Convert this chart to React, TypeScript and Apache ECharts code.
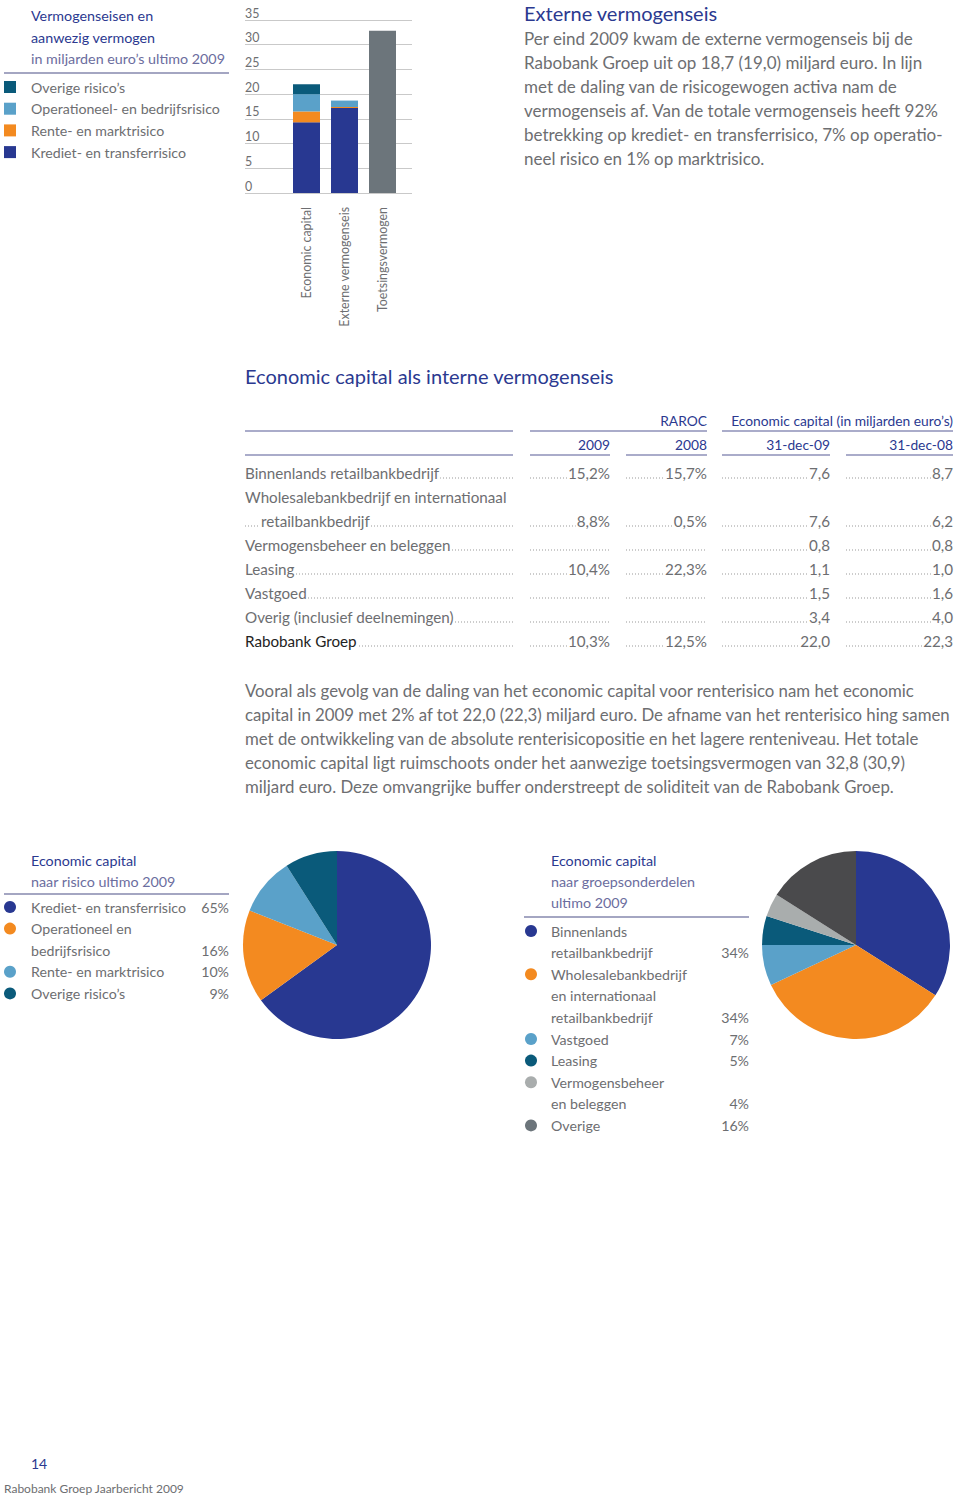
import React, { useEffect, useRef } from 'react';
import * as echarts from 'echarts';

const FONT = 'Lato, "Noto Sans", sans-serif';
const NAVY = '#2b3990';
const SUB = '#6b6d9e';
const GREY = '#6d6e71';
const RULE = '#8e91b8';
const C_KREDIET = '#283891';
const C_ORANGE = '#f38a20';
const C_LBLUE = '#5aa1c9';
const C_TEAL = '#0a5a7a';
const C_TOETS = '#6c757b';
const C_DGREY = '#4a4a4c';
const C_LGREY = '#a9adad';

// ---- Bar chart data (miljarden euro's) ----
const barCategories = ['Economic capital', 'Externe vermogenseis', 'Toetsingsvermogen'];
const kredietRisico = [14.3, 17.2, null];
const renteRisico = [2.2, 0.2, null];
const operationeelRisico = [3.5, 1.3, null];
const overigeRisico = [2.0, 0, null];
const toetsingsvermogen = [null, null, 32.8];
const barLegend = ['Overige risico’s', 'Operationeel- en bedrijfsrisico', 'Rente- en marktrisico', 'Krediet- en transferrisico'];
const barLegendColors = [C_TEAL, C_LBLUE, C_ORANGE, C_KREDIET];

// ---- Pie 1: naar risico ----
const pie1Names = ['Krediet- en transferrisico', 'Operationeel en bedrijfsrisico', 'Rente- en marktrisico', 'Overige risico’s'];
const pie1Values = [65, 16, 10, 9];
const pie1Colors = [C_KREDIET, C_ORANGE, C_LBLUE, C_TEAL];
const pie1LegendLines = [['Krediet- en transferrisico'], ['Operationeel en', 'bedrijfsrisico'], ['Rente- en marktrisico'], ['Overige risico’s']];

// ---- Pie 2: naar groepsonderdelen ----
const pie2Names = ['Binnenlands retailbankbedrijf', 'Wholesalebankbedrijf en internationaal retailbankbedrijf', 'Vastgoed', 'Leasing', 'Vermogensbeheer en beleggen', 'Overige'];
const pie2Values = [34, 34, 7, 5, 4, 16];
const pie2Colors = [C_KREDIET, C_ORANGE, C_LBLUE, C_TEAL, C_LGREY, C_DGREY];
const pie2LegendColors = [C_KREDIET, C_ORANGE, C_LBLUE, C_TEAL, C_LGREY, C_TOETS];
const pie2LegendLines = [['Binnenlands', 'retailbankbedrijf'], ['Wholesalebankbedrijf', 'en internationaal', 'retailbankbedrijf'], ['Vastgoed'], ['Leasing'], ['Vermogensbeheer', 'en beleggen'], ['Overige']];

// ---- Table ----
const tableLabels = ['Binnenlands retailbankbedrijf', 'Wholesalebankbedrijf en internationaal|retailbankbedrijf', 'Vermogensbeheer en beleggen', 'Leasing', 'Vastgoed', 'Overig (inclusief deelnemingen)', 'Rabobank Groep'];
const raroc2009 = ['15,2%', '8,8%', '', '10,4%', '', '', '10,3%'];
const raroc2008 = ['15,7%', '0,5%', '', '22,3%', '', '', '12,5%'];
const ec2009 = ['7,6', '7,6', '0,8', '1,1', '1,5', '3,4', '22,0'];
const ec2008 = ['8,7', '6,2', '0,8', '1,0', '1,6', '4,0', '22,3'];
const tableHeads = ['2009', '2008', '31-dec-09', '31-dec-08'];

const externeText = [
  'Per eind 2009 kwam de externe vermogenseis bij de',
  'Rabobank Groep uit op 18,7 (19,0) miljard euro. In lijn',
  'met de daling van de risicogewogen activa nam de',
  'vermogenseis af. Van de totale vermogenseis heeft 92%',
  'betrekking op krediet- en transferrisico, 7% op operatio-',
  'neel risico en 1% op marktrisico.',
];
const vooralText = [
  'Vooral als gevolg van de daling van het economic capital voor renterisico nam het economic',
  'capital in 2009 met 2% af tot 22,0 (22,3) miljard euro. De afname van het renterisico hing samen',
  'met de ontwikkeling van de absolute renterisicopositie en het lagere renteniveau. Het totale',
  'economic capital ligt ruimschoots onder het aanwezige toetsingsvermogen van 32,8 (30,9)',
  'miljard euro. Deze omvangrijke buffer onderstreept de soliditeit van de Rabobank Groep.',
];

function txt(x: number, y: number, text: string, size: number, fill: string, align = 'left', extra: any = {}) {
  return {
    type: 'text', x, y, z: extra.z ?? 10,
    style: {
      text, fontSize: size, fontFamily: FONT, fill,
      textAlign: align, textVerticalAlign: 'middle',
      ...(extra.bg ? { backgroundColor: '#ffffff', padding: [0, 1, 0, 1] } : {}),
    },
  };
}
function hline(x1: number, x2: number, y: number, color: string, width: number, dash?: number[]) {
  return {
    type: 'line', z: 5,
    shape: { x1, y1: y, x2, y2: y },
    style: { stroke: color, lineWidth: width, ...(dash ? { lineDash: dash } : {}) },
  };
}

function buildGraphics() {
  const g: any[] = [];
  // top-left legend
  g.push(txt(31, 15, 'Vermogenseisen en', 14.3, NAVY));
  g.push(txt(31, 37, 'aanwezig vermogen', 14.3, NAVY));
  g.push(txt(31, 58, 'in miljarden euro’s ultimo 2009', 14.3, SUB));
  g.push(hline(4, 229, 73, '#4a4f86', 1.2));
  barLegend.forEach((name, i) => {
    const y = 87 + i * 21.7;
    g.push({ type: 'rect', shape: { x: 4, y: y - 6, width: 12, height: 12 }, style: { fill: barLegendColors[i] } });
    g.push(txt(31, y, name, 14.2, GREY));
  });
  // top-right text
  g.push(txt(524, 13, 'Externe vermogenseis', 20, NAVY));
  externeText.forEach((l, i) => g.push(txt(524, 38 + i * 24, l, 17, GREY)));

  // table
  g.push(txt(245, 376, 'Economic capital als interne vermogenseis', 20, NAVY));
  g.push(txt(707, 420, 'RAROC', 13.8, NAVY, 'right'));
  g.push(txt(953, 420, 'Economic capital (in miljarden euro’s)', 13.8, NAVY, 'right'));
  const cols = [[530, 610], [626, 707], [722, 830], [846, 953]];
  g.push(hline(245, 513, 431, RULE, 1.5));
  g.push(hline(530, 707, 431, RULE, 1.5));
  g.push(hline(722, 953, 431, RULE, 1.5));
  g.push(hline(245, 513, 455, RULE, 1.5));
  tableHeads.forEach((h, i) => {
    g.push(txt(cols[i][1], 444, h, 13.8, NAVY, 'right'));
    g.push(hline(cols[i][0], cols[i][1], 455, RULE, 1.5));
  });
  const dash = [1, 2];
  let y = 473;
  tableLabels.forEach((lab, r) => {
    const parts = lab.split('|');
    const color = r === tableLabels.length - 1 ? '#222222' : GREY;
    if (parts.length > 1) {
      g.push(txt(245, y, parts[0], 15.2, GREY));
      y += 24;
      g.push(hline(245, 513, y + 5, '#999', 1, dash));
      g.push(txt(260, y, parts[1], 15.2, color, 'left', { bg: true }));
    } else {
      g.push(hline(245, 513, y + 5, '#999', 1, dash));
      g.push(txt(244, y, parts[0], 15.2, color, 'left', { bg: true }));
    }
    const vals = [raroc2009[r], raroc2008[r], ec2009[r], ec2008[r]];
    vals.forEach((v, c) => {
      g.push(hline(cols[c][0], cols[c][1], y + 5, '#999', 1, dash));
      if (v) g.push(txt(cols[c][1] + 1, y, v, 15.2, GREY, 'right', { bg: true }));
    });
    y += 24;
  });

  // paragraph
  vooralText.forEach((l, i) => g.push(txt(245, 690 + i * 24, l, 16.8, GREY)));

  // pie1 legend
  g.push(txt(31, 860, 'Economic capital', 14.3, NAVY));
  g.push(txt(31, 881, 'naar risico ultimo 2009', 14.3, SUB));
  g.push(hline(4, 229, 894, '#4a4f86', 1.2));
  let ly = 907;
  pie1LegendLines.forEach((lines, i) => {
    g.push({ type: 'circle', shape: { cx: 10, cy: ly, r: 6 }, style: { fill: pie1Colors[i] } });
    lines.forEach((l, j) => {
      g.push(txt(31, ly, l, 14.2, GREY));
      if (j === lines.length - 1) g.push(txt(229, ly, pie1Values[i] + '%', 14.2, GREY, 'right'));
      ly += 21.6;
    });
  });

  // pie2 legend
  g.push(txt(551, 860, 'Economic capital', 14.3, NAVY));
  g.push(txt(551, 881, 'naar groepsonderdelen', 14.3, SUB));
  g.push(txt(551, 902, 'ultimo 2009', 14.3, SUB));
  g.push(hline(524, 749, 917, '#4a4f86', 1.2));
  ly = 931;
  pie2LegendLines.forEach((lines, i) => {
    g.push({ type: 'circle', shape: { cx: 531, cy: ly, r: 6 }, style: { fill: pie2LegendColors[i] } });
    lines.forEach((l, j) => {
      g.push(txt(551, ly, l, 14.2, GREY));
      if (j === lines.length - 1) g.push(txt(749, ly, pie2Values[i] + '%', 14.2, GREY, 'right'));
      ly += 21.6;
    });
  });

  // footer
  g.push(txt(31, 1463, '14', 14, NAVY));
  g.push(txt(4, 1488, 'Rabobank Groep Jaarbericht 2009', 12, GREY));
  return g;
}

export default function App() {
  const ref = useRef<HTMLDivElement>(null);
  useEffect(() => {
    if (!ref.current) return;
    const chart = echarts.init(ref.current, null, { renderer: 'svg' });
    const barSeries = (name: string, data: (number | null)[], color: string) => ({
      type: 'bar', name, data, stack: 'tot', xAxisIndex: 1, yAxisIndex: 1,
      barWidth: 27, itemStyle: { color }, emphasis: { disabled: true },
    });
    const pieBase = {
      type: 'pie', radius: 94, startAngle: 90, clockwise: true,
      label: { show: false }, labelLine: { show: false },
      emphasis: { disabled: true }, itemStyle: { borderWidth: 0 },
    };
    chart.setOption({
      animation: false,
      backgroundColor: '#ffffff',
      grid: [
        { left: 245, top: 20, width: 167, height: 173 },
        { left: 287.5, top: 20, width: 114, height: 173 },
      ],
      xAxis: [
        { type: 'category', gridIndex: 0, data: [''], show: false },
        {
          type: 'category', gridIndex: 1, data: barCategories,
          axisLine: { show: false }, axisTick: { show: false },
          axisLabel: { rotate: 90, margin: 14, fontSize: 12.4, fontFamily: FONT, color: GREY, interval: 0 },
        },
      ],
      yAxis: [
        {
          type: 'value', gridIndex: 0, min: 0, max: 35, interval: 5,
          axisLine: { show: false }, axisTick: { show: false },
          splitLine: { lineStyle: { color: '#c9c9c9', width: 1 } },
          axisLabel: { inside: true, margin: 0, verticalAlign: 'bottom', padding: [0, 0, 1, 0], fontSize: 12.4, fontFamily: FONT, color: GREY },
        },
        { type: 'value', gridIndex: 1, min: 0, max: 35, interval: 5, show: false },
      ],
      series: [
        barSeries('Krediet- en transferrisico', kredietRisico, C_KREDIET),
        barSeries('Rente- en marktrisico', renteRisico, C_ORANGE),
        barSeries('Operationeel- en bedrijfsrisico', operationeelRisico, C_LBLUE),
        barSeries('Overige risico’s', overigeRisico, C_TEAL),
        barSeries('Toetsingsvermogen', toetsingsvermogen, C_TOETS),
        { ...pieBase, center: [337, 945], data: pie1Names.map((n, i) => ({ name: n, value: pie1Values[i], itemStyle: { color: pie1Colors[i] } })) },
        { ...pieBase, center: [856, 945], data: pie2Names.map((n, i) => ({ name: n, value: pie2Values[i], itemStyle: { color: pie2Colors[i] } })) },
      ],
      graphic: buildGraphics(),
    });
    return () => chart.dispose();
  }, []);
  return <div ref={ref} style={{ position: 'absolute', left: 0, top: 0, width: 960, height: 1497 }} />;
}
